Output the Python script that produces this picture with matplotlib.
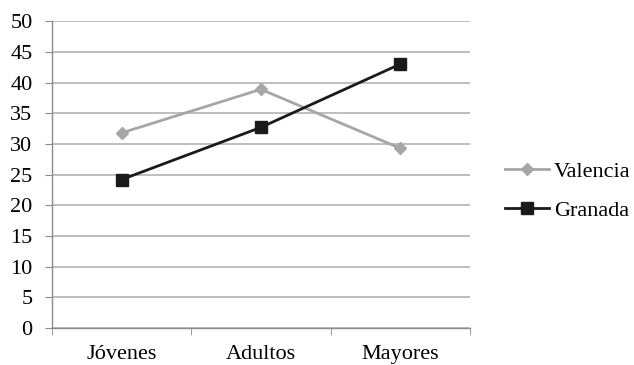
import numpy as np
import matplotlib
matplotlib.use('Agg')
import matplotlib.pyplot as plt

# Datos por grupo de edad
grupos = ['Jóvenes', 'Adultos', 'Mayores']
valencia = [31.8, 38.9, 29.3]
granada = [24.2, 32.7, 43.0]
yticks = list(range(0, 55, 5))

plt.rcParams['font.family'] = ['Liberation Serif', 'DejaVu Serif']

fig = plt.figure(figsize=(6.34, 3.65), dpi=100)
ax = fig.add_axes([0.082, 0.101, 0.659, 0.841])

x = np.arange(len(grupos))
ax.plot(x, valencia, color='#a6a6a6', linewidth=2, marker='D', markersize=6,
        label='Valencia', zorder=3)
ax.plot(x, granada, color='#1a1a1a', linewidth=2, marker='s', markersize=9,
        label='Granada', zorder=4)

ax.set_xlim(-0.5, len(grupos) - 0.5)
ax.set_ylim(0, 50)
ax.set_yticks(yticks)
ax.set_xticks(x)
ax.set_xticklabels(grupos)
ax.set_xticks(np.arange(len(grupos) + 1) - 0.5, minor=True)

ax.grid(axis='y', color='#b3b3b3', linewidth=1.2)
ax.set_axisbelow(True)

for side in ['top', 'right']:
    ax.spines[side].set_visible(False)
for side in ['left', 'bottom']:
    ax.spines[side].set_color('#8c8c8c')
    ax.spines[side].set_linewidth(1)

ax.tick_params(axis='y', labelsize=16, length=5, color='#8c8c8c', pad=9)
ax.tick_params(axis='x', which='major', labelsize=16, length=0, pad=12)
ax.tick_params(axis='x', which='minor', length=5, color='#8c8c8c')

ax.legend(loc='center left', bbox_to_anchor=(1.084, 0.446), frameon=False,
          fontsize=16, handlelength=2.0, handletextpad=0.2, labelspacing=0.85,
          borderpad=0, borderaxespad=0)

plt.savefig('out.png', dpi=100)
